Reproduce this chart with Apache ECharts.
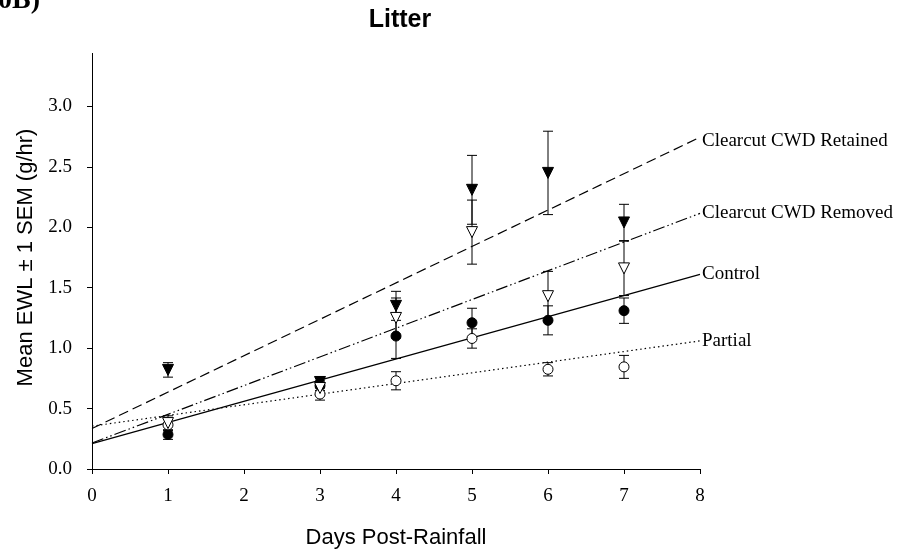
<!DOCTYPE html>
<html><head><meta charset="utf-8">
<script src="https://cdn.jsdelivr.net/npm/echarts@6/dist/echarts.min.js"></script>
<style>html,body{margin:0;padding:0;background:#fff}#c{width:906px;height:554px}</style>
</head><body><div id="c"></div>
<script>
// ---- data ----
const days = [1, 3, 4, 5, 6, 7];
const retainedMean = [0.82, 0.72, 1.35, 2.31, 2.45, 2.04];
const retainedSem  = [0.06, 0.045, 0.12, 0.285, 0.345, 0.15];
const removedMean  = [0.38, 0.67, 1.25, 1.96, 1.43, 1.66];
const removedSem   = [0.06, 0.05, 0.165, 0.265, 0.205, 0.225];
const controlMean  = [0.285, 0.69, 1.10, 1.21, 1.23, 1.31];
const controlSem   = [0.04, 0.04, 0.185, 0.12, 0.12, 0.105];
const partialMean  = [0.365, 0.62, 0.73, 1.08, 0.825, 0.845];
const partialSem   = [0.05, 0.05, 0.075, 0.08, 0.055, 0.095];
const fitDays      = [0, 8];
const retainedFit  = [0.335, 2.745];
const removedFit   = [0.215, 2.115];
const controlFit   = [0.21, 1.61];
const partialFit   = [0.355, 1.06];
const xAxisTicks = [0, 1, 2, 3, 4, 5, 6, 7, 8];
const yAxisTicks = [0.0, 0.5, 1.0, 1.5, 2.0, 2.5, 3.0, 3.5];
const names = ['Clearcut CWD Retained', 'Clearcut CWD Removed', 'Control', 'Partial'];

const SERIF = '"Liberation Serif", "Times New Roman", serif';
const SANS = '"Liberation Sans", Arial, sans-serif';

function errRender(params, api) {
  const x = api.value(0), lo = api.value(1), hi = api.value(2);
  const p1 = api.coord([x, lo]), p2 = api.coord([x, hi]);
  const w = 5;
  const st = { stroke: '#000', lineWidth: 1 };
  return { type: 'group', children: [
    { type: 'line', shape: { x1: p1[0], y1: p1[1], x2: p2[0], y2: p2[1] }, style: st },
    { type: 'line', shape: { x1: p1[0] - w, y1: p1[1], x2: p1[0] + w, y2: p1[1] }, style: st },
    { type: 'line', shape: { x1: p2[0] - w, y1: p2[1], x2: p2[0] + w, y2: p2[1] }, style: st }
  ]};
}

function fitSeries(name, vals, dash, offset) {
  return {
    type: 'line', name: name, silent: true, z: 1,
    data: fitDays.map((d, i) => [d, vals[i]]),
    symbol: 'none',
    lineStyle: { color: '#000', width: 1.2, type: dash },
    endLabel: { show: true, formatter: name, color: '#000', fontFamily: SERIF, fontSize: 19, distance: 2, offset: offset || [0, 0] }
  };
}
function errSeries(means, sems) {
  return {
    type: 'custom', silent: true, z: 2, renderItem: errRender,
    encode: { x: 0, y: [1, 2] },
    data: days.map((d, i) => [d, means[i] - sems[i], means[i] + sems[i]])
  };
}
function markSeries(means, symbol, rotate, fill) {
  return {
    type: 'scatter', silent: true, z: 3,
    symbol: symbol, symbolRotate: rotate, symbolSize: symbol === 'circle' ? 10 : 11,
    itemStyle: { color: fill, borderColor: '#000', borderWidth: 1, opacity: 1 },
    data: days.map((d, i) => [d, means[i]])
  };
}

const chart = echarts.init(document.getElementById('c'));
chart.setOption({
  animation: false,
  backgroundColor: '#fff',
  title: {
    text: 'Litter', left: 395, top: 3, textAlign: 'center',
    textStyle: { fontFamily: SANS, fontWeight: 'bold', fontSize: 25, color: '#000' }
  },
  graphic: [
    { type: 'rect', left: 30, top: 20, z: 100, shape: { width: 80, height: 33 }, style: { fill: '#fff' } },
    { type: 'text', left: -2, top: -13, z: 101,
      style: { text: '0B)', font: 'bold 28px ' + SERIF, fill: '#000' } }
  ],
  grid: { left: 92, right: 206, top: 46, bottom: 81, containLabel: false },
  xAxis: {
    type: 'value', min: xAxisTicks[0], max: xAxisTicks[xAxisTicks.length - 1], interval: 1,
    name: 'Days Post-Rainfall', nameLocation: 'middle', nameGap: 58,
    nameTextStyle: { fontFamily: SANS, fontSize: 22, color: '#000' },
    axisLine: { lineStyle: { color: '#000', width: 1 } },
    axisTick: { show: true, inside: false, length: 5, lineStyle: { color: '#000' } },
    axisLabel: { fontFamily: SERIF, fontSize: 19, color: '#000', margin: 18 },
    splitLine: { show: false }
  },
  yAxis: {
    type: 'value', min: yAxisTicks[0], max: yAxisTicks[yAxisTicks.length - 1], interval: 0.5,
    name: 'Mean EWL \u00b1 1 SEM (g/hr)', nameLocation: 'middle', nameGap: 55,
    nameTextStyle: { fontFamily: SANS, fontSize: 22, color: '#000' },
    axisLine: { show: true, lineStyle: { color: '#000', width: 1 } },
    axisTick: { show: true, inside: false, length: 5, lineStyle: { color: '#000' } },
    axisLabel: { fontFamily: SERIF, fontSize: 19, color: '#000', margin: 20,
      formatter: v => v.toFixed(1) },
    splitLine: { show: false }
  },
  series: [
    fitSeries(names[0], retainedFit, [10, 5], [0, 4]),
    fitSeries(names[1], removedFit, [12, 3, 1.5, 3, 1.5, 3]),
    fitSeries(names[2], controlFit, 'solid'),
    fitSeries(names[3], partialFit, [1.5, 3]),
    errSeries(controlMean, controlSem),
    errSeries(partialMean, partialSem),
    errSeries(retainedMean, retainedSem),
    errSeries(removedMean, removedSem),
    markSeries(controlMean, 'circle', 0, '#000'),
    markSeries(partialMean, 'circle', 0, '#fff'),
    markSeries(retainedMean, 'triangle', 180, '#000'),
    markSeries(removedMean, 'triangle', 180, '#fff')
  ]
});
</script>
</body></html>
